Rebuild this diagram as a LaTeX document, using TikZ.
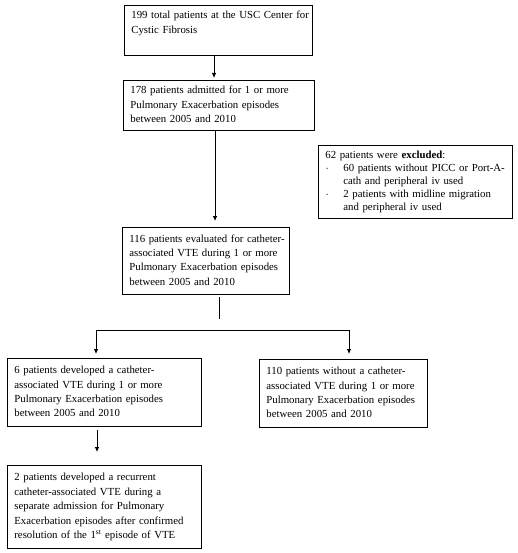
\documentclass[tikz,border=0pt]{standalone}
\usepackage{fontspec}
\setmainfont{Liberation Serif}
\usetikzlibrary{arrows.meta,calc}
\newcommand{\lns}[1]{\begin{tabular}{@{}l@{}}#1\end{tabular}}
\newcommand{\blt}{\hspace*{1pt}\makebox[17pt][l]{\raisebox{1pt}{\tiny\textbullet}}}
\begin{document}
\begin{tikzpicture}[x=1pt,y=-1pt,
  box/.style={draw=black, line width=0.75pt, anchor=north west, align=left,
    inner xsep=7pt, inner ysep=3pt, font=\fontsize{10.8}{14.4}\selectfont},
  arr/.style={draw=black, line width=0.75pt, -{Latex[length=5pt,width=4.5pt]}},
  ln/.style={draw=black, line width=0.75pt}]
\useasboundingbox (0,0) rectangle (517,553);

\node[box, text width=174pt, minimum height=50pt] (b1) at (124,5)
  {\lns{199 total patients at the USC Center for\\Cystic Fibrosis\\\mbox{}}};
\node[box, text width=177pt, minimum height=50pt] (b2) at (123,80)
  {\lns{178 patients admitted for 1 or more\\Pulmonary Exacerbation episodes\\between 2005 and 2010}};
\node[box, text width=180pt, minimum height=73pt,
  font=\fontsize{10.8}{12.8}\selectfont] (ex) at (318,145)
  {\begin{tabular}{@{}l@{}l@{}}
   \multicolumn{2}{@{}l@{}}{62 patients were \textbf{excluded}:}\\
   \blt & 60 patients without PICC or Port-A-\\
       & cath and peripheral iv used\\
   \blt & 2 patients with midline migration\\
       & and peripheral iv used
   \end{tabular}};
\node[box, text width=153pt, minimum height=67pt] (b3) at (122,227)
  {\lns{116 patients evaluated for catheter-\\associated VTE during 1 or more\\Pulmonary Exacerbation episodes\\between 2005 and 2010}};
\node[box, text width=180pt, minimum height=68pt] (b4) at (7,358)
  {\lns{6 patients developed a catheter-\\associated VTE during 1 or more\\Pulmonary Exacerbation episodes\\between 2005 and 2010}};
\node[box, text width=154pt, minimum height=68pt] (b5) at (259,359)
  {\lns{110 patients without a catheter-\\associated VTE during 1 or more\\Pulmonary Exacerbation episodes\\between 2005 and 2010}};
\node[box, text width=180pt, minimum height=83pt] (b6) at (7,465)
  {\lns{2 patients developed a recurrent\\catheter-associated VTE during a\\separate admission for Pulmonary\\Exacerbation episodes after confirmed\\resolution of the 1\textsuperscript{st} episode of VTE}};

% reference x positions
\coordinate (xa) at (214,0);
\coordinate (xb) at (215,0);
\coordinate (s1) at (219,297);
\coordinate (s2) at (219,319);
\coordinate (hL) at (96,330);
\coordinate (hR) at (349,330);
\coordinate (xc) at (97,0);

\draw[arr, shorten >=2pt] (b1.south -| xa) -- (b2.north -| xa);
\draw[arr, shorten >=6pt] (b2.south -| xb) -- (b3.north -| xb);
\draw[ln] (s1) -- (s2);
\draw[arr, shorten >=4pt] (hR) -- (hL) -- (b4.north -| hL);
\draw[arr, shorten >=5pt] (hL) -- (hR) -- (b5.north -| hR);
\draw[arr, shorten <=3pt, shorten >=13pt] (b4.south -| xc) -- (b6.north -| xc);
\end{tikzpicture}
\end{document}
